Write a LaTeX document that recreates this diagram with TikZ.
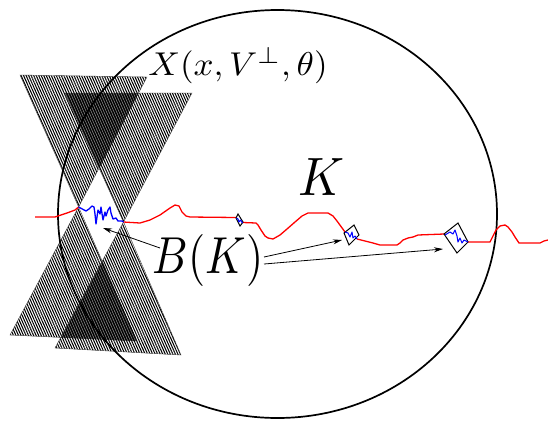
\documentclass[tikz,border=0pt]{standalone}
\usetikzlibrary{patterns.meta,arrows.meta}
\begin{document}
\begin{tikzpicture}[x=1pt,y=-1pt,
  hatch/.style={pattern={Lines[angle=-66,distance=2.3pt,line width=1.05pt]},draw=black!75,line width=0.4pt},
  overlapfill/.style={fill=black!55},
  redpath/.style={red,line width=1.3pt,line join=round},
  bluepath/.style={blue,line width=1.3pt,line join=round},
  boxdiamond/.style={draw=black,line width=1pt,line join=miter},
  arr/.style={-{Stealth[length=9pt,width=5pt]},line width=0.8pt},
  lbl/.style={inner sep=0pt,anchor=base,transform shape}]
\useasboundingbox (0,0) rectangle (548,424);
\fill[white] (0,0) rectangle (548,424);
% apexes of the two double cones
\coordinate (ca) at (78.6,207);
\coordinate (cb) at (123.5,222);
% darker overlap of the two cones
\begin{scope}
  \clip (20,75) -- (147,77) -- (ca) -- cycle;
  \fill[overlapfill] (65,93) -- (192,93) -- (cb) -- cycle;
\end{scope}
\begin{scope}
  \clip (ca) -- (10,335) -- (137,341) -- cycle;
  \fill[overlapfill] (cb) -- (55,348) -- (181,355) -- cycle;
\end{scope}
% bowtie A
\filldraw[hatch] (20,75) -- (147,77) -- (ca) -- cycle;
\filldraw[hatch] (ca) -- (10,335) -- (137,341) -- cycle;
% bowtie B
\filldraw[hatch] (65,93) -- (192,93) -- (cb) -- cycle;
\filldraw[hatch] (cb) -- (55,348) -- (181,355) -- cycle;
% set K
\draw[line width=1.7pt] (277.5,214) ellipse [x radius=219.5pt, y radius=204pt];
% red curve
\draw[redpath] (35,217) -- (55,217) -- (67,213) -- (75,210) -- (ca);
\draw[redpath] (cb) -- (140,223) -- (150,220) -- (160,215) -- (170,208) -- (175,205) -- (179,206) -- (182,212) -- (186,216) -- (190,217) -- (236,217.5);
\draw[redpath] (243,222.5) -- (256,223) -- (258,225) -- (261,230) -- (265,236) -- (268,238) -- (273,239) -- (280,235) -- (287,229) -- (295,222) -- (302,216) -- (308,213) -- (328,213) -- (333,216) -- (337,221) -- (345,232);
\draw[redpath] (357,239) -- (365,241) -- (373,243) -- (380,245) -- (397,245) -- (400,243) -- (403,240) -- (408,238) -- (413,237) -- (418,235) -- (444,234);
\draw[redpath] (468,242) -- (490,242) -- (493,236) -- (496,230) -- (500,226) -- (505,225) -- (508,227) -- (512,232) -- (515,237) -- (519,243) -- (540,243) -- (544,241) -- (548,240);
% blue in the gap
\draw[bluepath] (ca) -- (86,211) -- (89,209) -- (92,206) -- (94,207) -- (95,214) -- (96,224) -- (97,217) -- (98,210) -- (100,214) -- (101,207) -- (103,220) -- (105,212) -- (106,216) -- (108,210) -- (110,207) -- (111,213) -- (113,219) -- (116,218) -- (118,221) -- (122,221) -- (cb);
% small boxes
\draw[boxdiamond] (236,218) -- (238,214) -- (243,222) -- (240,226) -- cycle;
\draw[bluepath,line width=1pt] (236.5,218) -- (238,219) -- (239,222) -- (240.5,220) -- (242.5,223);
\draw[boxdiamond] (344,233) -- (354,225) -- (359,235) -- (349,245) -- cycle;
\draw[bluepath,line width=1pt] (345,232) -- (348,233) -- (350,237) -- (352,232) -- (353,238) -- (355,236) -- (357,239);
\draw[boxdiamond] (444,234) -- (458,223) -- (468,242) -- (457,253) -- cycle;
\draw[bluepath,line width=1pt] (445,235) -- (450,232) -- (453,234) -- (455,230) -- (457,236) -- (458,242) -- (460,238) -- (462,243) -- (464,240) -- (468,242);
% labels
\node[lbl,xscale=3.5,yscale=3.3] (X) at (238,75) {$X(x,V^{\perp},\theta)$};
\node[lbl,xscale=5,yscale=5.4] (K) at (322,195) {$K$};
\node[lbl,xscale=4.4,yscale=5.2] (BK) at (208,273) {$B(K)$};
% arrows
\coordinate (s1) at (160,248);
\coordinate (t1) at (103,228);
\coordinate (s2) at (264,257);
\coordinate (t2) at (342,240);
\coordinate (s3) at (264,264);
\coordinate (t3) at (443,249);
\draw[arr] (s1) -- (t1);
\draw[arr] (s2) -- (t2);
\draw[arr] (s3) -- (t3);
\end{tikzpicture}
\end{document}
